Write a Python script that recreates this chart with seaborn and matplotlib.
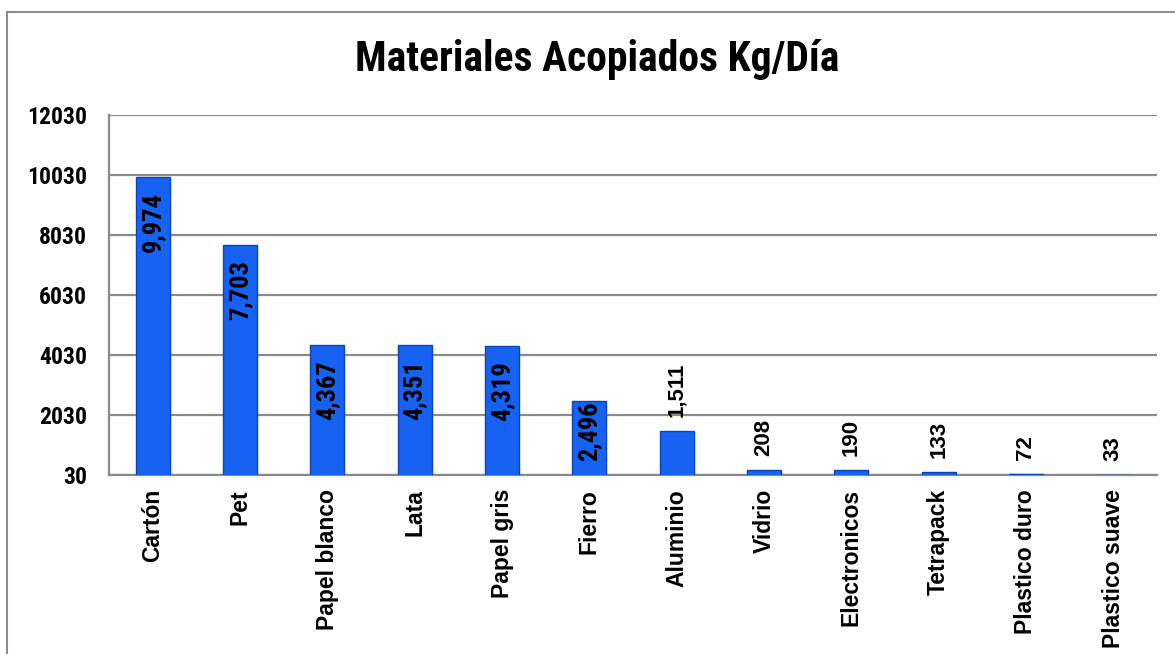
import matplotlib
matplotlib.use("Agg")
import matplotlib.pyplot as plt
import seaborn as sns
import pandas as pd
from matplotlib.patches import Rectangle
from matplotlib import font_manager

# Data
materiales = ["Cartón", "Pet", "Papel blanco", "Lata", "Papel gris", "Fierro",
              "Aluminio", "Vidrio", "Electronicos", "Tetrapack", "Plastico duro",
              "Plastico suave"]
kg_dia = [9974, 7703, 4367, 4351, 4319, 2496, 1511, 208, 190, 133, 72, 33]
y_ticks = [30, 2030, 4030, 6030, 8030, 10030, 12030]

df = pd.DataFrame({"Material": materiales, "Kg": kg_dia})

sns.set_style("white")
installed = {f.name for f in font_manager.fontManager.ttflist}
narrow_font = None
for cand in ["Liberation Sans Narrow", "Arial Narrow", "Roboto Condensed",
             "Open Sans Condensed", "DejaVu Sans Condensed"]:
    if cand in installed:
        narrow_font = cand
        break
narrow = [narrow_font or "Liberation Sans", "DejaVu Sans"]
regular = ["Liberation Sans", "DejaVu Sans"]
plt.rcParams["font.family"] = regular
plt.rcParams["text.color"] = "black"
plt.rcParams["xtick.color"] = "black"
plt.rcParams["ytick.color"] = "black"

is_narrow = narrow_font is not None
k = 1.0 if is_narrow else 0.86

fig = plt.figure(figsize=(11.75, 6.54), dpi=100)
ax = fig.add_axes([109/1175, 1 - 475/654, (1157-109)/1175, (475-115)/654])

# outer frame of the chart area
fig.patches.append(Rectangle((7/1175, -0.1), 1.2, 1 - 12/654 + 0.1,
                             transform=fig.transFigure, fill=False,
                             edgecolor="#8c8c8c", linewidth=1.5, zorder=0))

sns.barplot(data=df, x="Material", y="Kg", color="#1662f3", saturation=1,
            width=0.39, edgecolor="#0a44b8", linewidth=1.0, ax=ax, zorder=3)

ax.set_ylim(30, 12030)
ax.set_yticks(y_ticks)
ax.set_yticklabels([str(t) for t in y_ticks], fontsize=17 * k, fontweight="bold",
                   family=narrow)
ax.yaxis.grid(True, color="#8a8a8a", linewidth=1.6, zorder=0)
ax.set_axisbelow(True)
ax.tick_params(axis="y", length=0, pad=16)
ax.tick_params(axis="x", length=0, pad=10)
plt.setp(ax.get_xticklabels(), rotation=90, fontsize=16.5, fontweight="bold",
         ha="center", va="top", color="black")
ax.set_xlabel("")
ax.set_ylabel("")

for side in ["top", "right"]:
    ax.spines[side].set_visible(False)
for side in ["left", "bottom"]:
    ax.spines[side].set_color("#8a8a8a")
    ax.spines[side].set_linewidth(1.6)

# value labels
ymin = ax.get_ylim()[0]
for i, v in enumerate(kg_dia):
    if v > 3000:
        ax.annotate(f"{v:,}", (i, v), xytext=(0, -11), textcoords="offset points",
                    rotation=90, ha="center", va="top", fontsize=19 * k,
                    fontweight="bold", family=narrow, zorder=5)
    elif v > 2000:
        # short bar: label centred inside
        ax.annotate(f"{v:,}", (i, (v + ymin) / 2), xytext=(0, 5),
                    textcoords="offset points", rotation=90, ha="center",
                    va="center", fontsize=19 * k, fontweight="bold",
                    family=narrow, zorder=5)
    else:
        ax.annotate(f"{v:,}", (i, v), xytext=(0, 10), textcoords="offset points",
                    rotation=90, ha="center", va="bottom", fontsize=16,
                    fontweight="bold", zorder=5)

fig.text(597/1175, 1 - 60/654, "Materiales Acopiados Kg/Día", ha="center",
         va="center", fontsize=30 * (1.0 if is_narrow else 0.84),
         fontweight="bold", family=narrow)

fig.savefig("out.png", dpi=100)
